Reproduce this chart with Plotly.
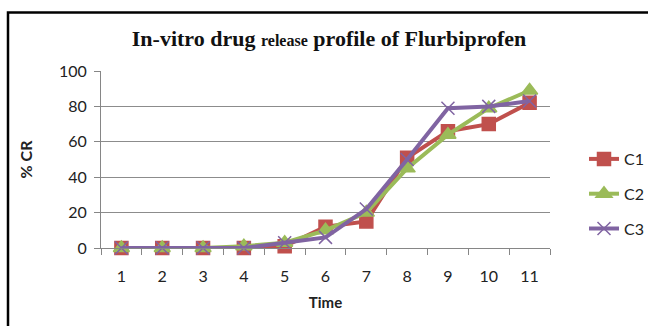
import plotly.graph_objects as go

# Dissolution time points and cumulative release (%) for three formulations
time_points = [1, 2, 3, 4, 5, 6, 7, 8, 9, 10, 11]
c1_release = [0, 0, 0, 0, 1, 12, 15, 51, 66, 70, 82]
c2_release = [0, 0, 0, 1, 3, 10, 20, 45, 64, 79, 89]
c3_release = [0, 0, 0, 0, 3, 6, 22, 50, 79, 80, 83]
series_names = ["C1", "C2", "C3"]

W, H = 648, 326
L, R, T, B = 101, 98, 71, 78

colors = ["#C0504D", "#9BBB59", "#8064A2"]
symbols = ["square", "triangle-up", "x-thin"]
sizes = [13, 14, 13]

fig = go.Figure()
for name, vals, col, sym, sz in zip(series_names, [c1_release, c2_release, c3_release],
                                    colors, symbols, sizes):
    fig.add_trace(go.Scatter(
        x=time_points, y=vals, name=name, legendgroup=name,
        mode="lines+markers",
        line=dict(color=col, width=4),
        marker=dict(symbol=sym, size=sz, color=col,
                    line=dict(color=col, width=1.5)),
        cliponaxis=False,
    ))

sans = "Lato, Carlito, Liberation Sans, sans-serif"
axis_font = dict(family=sans, size=16, color="#222222")

fig.update_layout(
    width=W, height=H,
    margin=dict(l=L, r=R, t=T, b=B, pad=0, autoexpand=False),
    paper_bgcolor="white", plot_bgcolor="white",
    title=dict(
        text="<b>In-vitro drug <span style='font-size:16px'>release</span> profile of Flurbiprofen</b>",
        font=dict(family="Liberation Serif, serif", size=22, color="#111111"),
        x=0.508, xanchor="center", xref="paper", y=1 - 38 / H, yanchor="middle",
    ),
    xaxis=dict(
        range=[0.5, 11.5], tickmode="array", tickvals=time_points,
        ticktext=[str(t) for t in time_points],
        ticks="", showgrid=False, zeroline=False,
        showline=True, linecolor="#868686", linewidth=1,
        tickfont=axis_font, ticklabelstandoff=14,
        minor=dict(tick0=0.5, dtick=1, ticks="outside", ticklen=6,
                   tickcolor="#868686", showgrid=False),
        title=dict(text="<b>Time</b>", font=dict(family=sans, size=15, color="#222222"),
                   standoff=13),
    ),
    yaxis=dict(
        range=[0, 100], tickvals=[0, 20, 40, 60, 80, 100],
        ticks="outside", ticklen=6, tickcolor="#868686",
        showgrid=True, gridcolor="#8c8c8c", gridwidth=1,
        zeroline=False, showline=True, linecolor="#868686", linewidth=1,
        tickfont=axis_font, ticklabelstandoff=4,
        title=dict(text="<b>% CR</b>", font=dict(family=sans, size=16, color="#222222"),
                   standoff=22),
    ),
    legend=dict(
        x=(584 - L) / (W - L - R), y=1 - (142 - T) / (H - T - B),
        xanchor="left", yanchor="top",
        font=dict(family=sans, size=16, color="#222222"),
        tracegroupgap=11, bgcolor="rgba(0,0,0,0)", itemwidth=30,
        maxheight=1,
    ),
    showlegend=True,
)

# Black chart frame; its right and bottom edges fall outside the canvas
pw, ph = W - L - R, H - T - B
def px(x): return (x - L) / pw
def py(y): return 1 - (y - T) / ph
fig.add_shape(type="rect", xref="paper", yref="paper", layer="below",
              x0=px(8), x1=px(W + 20), y0=py(12.5), y1=py(H + 20),
              line=dict(color="black", width=2.5), fillcolor="rgba(0,0,0,0)")

fig.write_html("out.html", config={"displayModeBar": False})
